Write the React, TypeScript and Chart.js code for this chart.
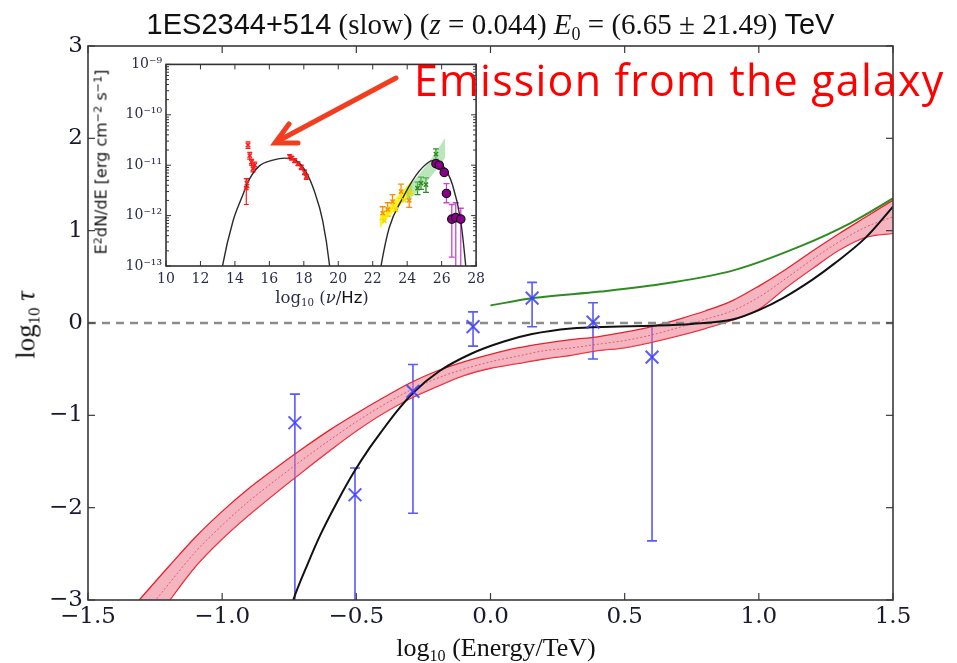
import React, { useEffect, useRef } from "react";
import { Chart, registerables } from "chart.js";

Chart.register(...registerables);

const SERIF = '"Liberation Serif", "DejaVu Serif", serif';
const WSERIF = '"DejaVu Serif", "Liberation Serif", serif';
const SANS = '"Liberation Sans", "DejaVu Sans", sans-serif';
const DSANS = '"DejaVu Sans", "Liberation Sans", sans-serif';

// ---------------- main panel ----------------
const xTicks = [-1.5, -1.0, -0.5, 0.0, 0.5, 1.0, 1.5];
const xTickLabels = ["−1.5", "−1.0", "−0.5", "0.0", "0.5", "1.0", "1.5"];
const yTicks = [-3, -2, -1, 0, 1, 2, 3];
const yTickLabels = ["−3", "−2", "−1", "0", "1", "2", "3"];

// measured points (log10 E/TeV, log10 tau)
const obsLogE = [-0.729, -0.505, -0.289, -0.065, 0.155, 0.382, 0.602];
const obsLogTau = [-1.08, -1.86, -0.74, -0.04, 0.27, 0.01, -0.37];
const obsTauHi = [-0.77, -1.57, -0.45, 0.12, 0.44, 0.22, -0.03];
const obsTauLo = [-3.6, -3.6, -2.06, -0.25, -0.04, -0.39, -2.36];

// EBL model band
const bandLogE = [-1.4, -1.3, -1.2, -1.1, -1.0, -0.9, -0.8, -0.7, -0.6, -0.5, -0.4, -0.3, -0.2, -0.1, 0.0, 0.1, 0.2, 0.3, 0.4, 0.5, 0.6, 0.7, 0.8, 0.9, 1.0, 1.1, 1.2, 1.3, 1.4, 1.5];
const bandUpper = [-3.3, -2.97, -2.64, -2.32, -2.04, -1.79, -1.57, -1.36, -1.16, -0.98, -0.81, -0.65, -0.52, -0.42, -0.34, -0.27, -0.22, -0.18, -0.15, -0.1, -0.04, 0.04, 0.13, 0.24, 0.4, 0.58, 0.78, 0.97, 1.15, 1.33];
const bandLower = [-3.85, -3.42, -3.02, -2.64, -2.34, -2.08, -1.84, -1.61, -1.385, -1.17, -0.98, -0.82, -0.69, -0.57, -0.49, -0.44, -0.39, -0.35, -0.3, -0.27, -0.21, -0.14, -0.06, 0.03, 0.15, 0.38, 0.59, 0.79, 0.93, 0.97];
const bandMid = [-3.57, -3.19, -2.83, -2.48, -2.19, -1.93, -1.7, -1.48, -1.27, -1.07, -0.89, -0.73, -0.6, -0.5, -0.42, -0.36, -0.3, -0.27, -0.23, -0.19, -0.13, -0.05, 0.04, 0.13, 0.28, 0.48, 0.69, 0.88, 1.04, 1.15];

// black model curve
const modelLogE = [-0.76, -0.735, -0.68, -0.635, -0.57, -0.51, -0.45, -0.41, -0.35, -0.29, -0.19, -0.07, 0.05, 0.155, 0.3, 0.45, 0.6, 0.75, 0.905, 1.0, 1.09, 1.2, 1.28, 1.4, 1.5];
const modelLogTau = [-3.25, -3.0, -2.6, -2.3, -1.93, -1.62, -1.35, -1.19, -0.96, -0.76, -0.52, -0.33, -0.2, -0.12, -0.06, -0.04, -0.03, -0.01, 0.04, 0.14, 0.27, 0.47, 0.64, 0.93, 1.26];

// green curve
const greenLogE = [0.0, 0.16, 0.41, 0.657, 0.905, 1.153, 1.34, 1.5];
const greenLogTau = [0.19, 0.27, 0.34, 0.43, 0.57, 0.83, 1.08, 1.35];

const zeroLogE = [-1.5, 1.5];
const zeroTau = [0, 0];

// ---------------- inset (SED) ----------------
const insetXTicks = [10, 12, 14, 16, 18, 20, 22, 24, 26, 28];
const insetYTicks = [1e-13, 1e-12, 1e-11, 1e-10, 1e-9];
const insetYTickLabels = ["10⁻¹³", "10⁻¹²", "10⁻¹¹", "10⁻¹⁰", "10⁻⁹"];

const synNu = [13.1, 13.28, 13.89, 14.38, 14.86, 15.44, 16.21, 16.89, 17.56, 18.14, 18.62, 19.1, 19.49, 19.6];
const synFlux = [4e-14, 1.0e-13, 7.8e-13, 2.2e-12, 5.4e-12, 9.8e-12, 1.26e-11, 1.38e-11, 1.23e-11, 7.2e-12, 3.0e-12, 7.8e-13, 1.05e-13, 4e-14];

const icNu = [22.3, 22.48, 22.96, 23.73, 24.51, 25.28, 25.47, 26.05, 26.63, 27.11, 27.4, 27.5];
const icFlux = [4e-14, 1e-13, 5.8e-13, 2.2e-12, 6.3e-12, 1.17e-11, 1.23e-11, 1.0e-11, 4.1e-12, 7.8e-13, 1e-13, 4e-14];

const redNu = [14.66, 14.7, 14.76, 14.86, 14.96, 15.05, 15.15, 17.18, 17.3, 17.47, 17.66, 17.85, 18.04, 18.14];
const redFlux = [3.5e-12, 4.4e-12, 2.5e-11, 1.55e-11, 1.15e-11, 8.5e-12, 1.0e-11, 1.48e-11, 1.38e-11, 1.23e-11, 1.07e-11, 9.1e-12, 7.2e-12, 5.9e-12];
const redHi = [5.4e-12, 5.4e-12, 2.9e-11, 1.8e-11, 1.3e-11, 9.8e-12, 1.15e-11, 1.62e-11, 1.5e-11, 1.35e-11, 1.17e-11, 1.0e-11, 8.0e-12, 6.6e-12];
const redLo = [1.66e-12, 3.6e-12, 2.15e-11, 1.32e-11, 1.0e-11, 7.4e-12, 8.7e-12, 1.35e-11, 1.26e-11, 1.12e-11, 9.8e-12, 8.2e-12, 6.5e-12, 5.2e-12];

const orangeNu = [22.58, 22.87, 23.15, 23.64, 24.12];
const orangeFlux = [1.12e-12, 1.32e-12, 1.9e-12, 3.0e-12, 2.0e-12];
const orangeHi = [1.5e-12, 1.8e-12, 2.6e-12, 4.2e-12, 2.8e-12];
const orangeLo = [8.3e-13, 9.8e-13, 1.4e-12, 2.2e-12, 1.45e-12];

const yellowNu = [22.67, 23.35, 23.83, 24.22];
const yellowFlux = [7.9e-13, 1.32e-12, 2.0e-12, 2.75e-12];

const greenNu = [24.6, 24.8, 25.09, 25.67];
const greenFlux = [3.5e-12, 4.4e-12, 4.1e-12, 1.66e-11];
const greenHi = [4.6e-12, 5.8e-12, 5.6e-12, 2.1e-11];
const greenLo = [2.6e-12, 3.3e-12, 2.9e-12, 1.3e-11];

const purpleNu = [25.67, 25.86, 26.15, 26.28, 26.59, 26.82, 27.11];
const purpleFlux = [1.07e-11, 1.0e-11, 7.2e-12, 2.75e-12, 8.5e-13, 9.1e-13, 8.5e-13];
const purpleHi = [1.2e-11, 1.15e-11, 8.3e-12, 4.3e-12, 1.66e-12, 1.8e-12, 1.4e-12];
const purpleLo = [9.5e-12, 8.8e-12, 6.2e-12, 1.8e-12, 1.5e-13, 5e-14, 5e-14];

const greenBandNu = [23.95, 24.6, 25.3, 25.9, 26.2];
const greenBandLo = [1.8e-12, 3.0e-12, 5.5e-12, 1.0e-11, 1.4e-11];
const greenBandHi = [3.5e-12, 6.0e-12, 1.2e-11, 2.4e-11, 3.5e-11];

const yellowBandNu = [22.4, 23.0, 23.6, 24.3];
const yellowBandLo = [5.6e-13, 1.0e-12, 1.6e-12, 2.8e-12];
const yellowBandHi = [1.0e-12, 1.6e-12, 2.8e-12, 5.0e-12];

const pts = (xs: number[], ys: number[]) => xs.map((x, i) => ({ x, y: ys[i] }));

const framePlugin = {
  id: "frame",
  afterDatasetsDraw(chart: any, _args: any, opts: any) {
    const { ctx, chartArea, scales } = chart;
    const { left, right, top, bottom } = chartArea;
    ctx.save();
    ctx.strokeStyle = opts.color;
    ctx.lineWidth = opts.tickWidth;
    const line = (x1: number, y1: number, x2: number, y2: number) => {
      ctx.beginPath();
      ctx.moveTo(x1, y1);
      ctx.lineTo(x2, y2);
      ctx.stroke();
    };
    const L = opts.tickLen;
    scales.x.ticks.forEach((t: any) => {
      const px = scales.x.getPixelForValue(t.value);
      line(px, bottom, px, bottom - L);
      line(px, top, px, top + L);
    });
    scales.y.ticks.forEach((t: any) => {
      const py = scales.y.getPixelForValue(t.value);
      line(left, py, left + L, py);
      line(right, py, right - L, py);
    });
    (opts.minorY || []).forEach((v: number) => {
      const py = scales.y.getPixelForValue(v);
      if (py < top || py > bottom) return;
      line(left, py, left + opts.minorLen, py);
      line(right, py, right - opts.minorLen, py);
    });
    ctx.lineWidth = opts.lineWidth;
    ctx.strokeRect(left, top, right - left, bottom - top);
    ctx.restore();
  },
};

const errorBarPlugin = {
  id: "errbars",
  beforeDatasetsDraw(chart: any, _args: any, opts: any) {
    const { ctx, chartArea, scales } = chart;
    ctx.save();
    ctx.beginPath();
    ctx.rect(chartArea.left, chartArea.top, chartArea.right - chartArea.left, chartArea.bottom - chartArea.top);
    ctx.clip();
    (opts.sets || []).forEach((s: any) => {
      ctx.strokeStyle = s.color;
      ctx.lineWidth = s.width;
      s.x.forEach((xv: number, i: number) => {
        const px = scales.x.getPixelForValue(xv);
        const p1 = scales.y.getPixelForValue(s.lo[i]);
        const p2 = scales.y.getPixelForValue(s.hi[i]);
        ctx.beginPath();
        ctx.moveTo(px, p1);
        ctx.lineTo(px, p2);
        ctx.moveTo(px - s.cap, p1);
        ctx.lineTo(px + s.cap, p1);
        ctx.moveTo(px - s.cap, p2);
        ctx.lineTo(px + s.cap, p2);
        ctx.stroke();
      });
    });
    ctx.restore();
  },
};

const BLUE = "rgba(60,60,255,0.85)";
const RED_EDGE = "#e8202a";

export default function App() {
  const mainRef = useRef<HTMLCanvasElement>(null);
  const insetRef = useRef<HTMLCanvasElement>(null);

  useEffect(() => {
    const line = { pointRadius: 0, cubicInterpolationMode: "monotone" as const };
    const main = new Chart(mainRef.current as HTMLCanvasElement, {
      type: "line",
      data: {
        datasets: [
          { data: pts(obsLogE, obsLogTau), showLine: false, pointStyle: "crossRot", pointRadius: 9, pointBorderWidth: 2, borderColor: BLUE, backgroundColor: BLUE },
          { data: pts(modelLogE, modelLogTau), borderColor: "#111", borderWidth: 2, ...line },
          { data: pts(greenLogE, greenLogTau), borderColor: "#2e8b22", borderWidth: 2, ...line },
          { data: pts(zeroLogE, zeroTau), borderColor: "#8c8c8c", borderWidth: 2.5, borderDash: [8, 6], pointRadius: 0 },
          { data: pts(bandLogE, bandMid), borderColor: "rgba(225,70,90,0.8)", borderWidth: 1, borderDash: [2, 2], ...line },
          { data: pts(bandLogE, bandUpper), borderColor: RED_EDGE, borderWidth: 1.3, fill: "+1", backgroundColor: "rgba(236,120,140,0.55)", ...line },
          { data: pts(bandLogE, bandLower), borderColor: RED_EDGE, borderWidth: 1.3, ...line },
        ] as any,
      },
      options: {
        animation: false,
        responsive: false,
        events: [],
        layout: { padding: { top: 46, right: 64, left: 0, bottom: 0 } },
        plugins: {
          legend: { display: false },
          tooltip: { enabled: false },
          frame: { color: "#3a3a3a", lineWidth: 1.6, tickWidth: 1.2, tickLen: 7 },
          errbars: { sets: [{ x: obsLogE, lo: obsTauLo, hi: obsTauHi, color: BLUE, width: 1.6, cap: 5 }] },
        } as any,
        scales: {
          x: {
            type: "linear",
            min: -1.5,
            max: 1.5,
            afterBuildTicks: (s: any) => { s.ticks = xTicks.map((v) => ({ value: v })); },
            afterFit: (s: any) => { s.height = 63; },
            grid: { display: false, drawTicks: false },
            border: { display: false },
            ticks: { padding: 3, autoSkip: false, maxRotation: 0, color: "#1a1a2e", font: { family: WSERIF, size: 23 }, callback: (_v: any, i: number) => xTickLabels[i] },
          },
          y: {
            type: "linear",
            min: -3,
            max: 3,
            afterBuildTicks: (s: any) => { s.ticks = yTicks.map((v) => ({ value: v })); },
            afterFit: (s: any) => { s.width = 88; },
            grid: { display: false, drawTicks: false },
            border: { display: false },
            ticks: { padding: 5, autoSkip: false, color: "#1a1a2e", font: { family: WSERIF, size: 23 }, callback: (_v: any, i: number) => yTickLabels[i] },
          },
        },
      },
      plugins: [framePlugin, errorBarPlugin],
    });

    const minorY: number[] = [];
    insetYTicks.slice(0, -1).forEach((d) => { for (let k = 2; k <= 9; k++) minorY.push(k * d); });
    const mk = (c: string) => ({ showLine: false, pointStyle: "crossRot", pointRadius: 3, pointBorderWidth: 1.5, borderColor: c, backgroundColor: c });

    const inset = new Chart(insetRef.current as HTMLCanvasElement, {
      type: "line",
      data: {
        datasets: [
          { data: pts(purpleNu, purpleFlux), showLine: false, pointStyle: "circle", pointRadius: 4.2, pointBorderWidth: 1.2, borderColor: "#111", backgroundColor: "#8a008a" },
          { data: pts(greenNu, greenFlux), ...mk("#2e8b22") },
          { data: pts(orangeNu, orangeFlux), ...mk("#ff8c00") },
          { data: pts(yellowNu, yellowFlux), ...mk("#f2dc00") },
          { data: pts(redNu, redFlux), ...mk("#ff1a1a") },
          { data: pts(synNu, synFlux), borderColor: "#2a2a2a", borderWidth: 1.4, ...line },
          { data: pts(icNu, icFlux), borderColor: "#2a2a2a", borderWidth: 1.4, ...line },
          { data: pts(greenBandNu, greenBandHi), borderColor: "rgba(0,0,0,0)", borderWidth: 0, fill: "+1", backgroundColor: "rgba(120,205,120,0.5)", pointRadius: 0 },
          { data: pts(greenBandNu, greenBandLo), borderColor: "rgba(0,0,0,0)", borderWidth: 0, pointRadius: 0 },
          { data: pts(yellowBandNu, yellowBandHi), borderColor: "rgba(0,0,0,0)", borderWidth: 0, fill: "+1", backgroundColor: "rgba(255,240,0,0.85)", pointRadius: 0 },
          { data: pts(yellowBandNu, yellowBandLo), borderColor: "rgba(0,0,0,0)", borderWidth: 0, pointRadius: 0 },
        ] as any,
      },
      options: {
        animation: false,
        responsive: false,
        events: [],
        layout: { padding: { top: 8, right: 13, left: 0, bottom: 0 } },
        plugins: {
          legend: { display: false },
          tooltip: { enabled: false },
          frame: { color: "#333", lineWidth: 1.6, tickWidth: 1, tickLen: 5, minorY, minorLen: 3 },
          errbars: {
            sets: [
              { x: redNu, lo: redLo, hi: redHi, color: "#ff1a1a", width: 1.2, cap: 2.5 },
              { x: orangeNu, lo: orangeLo, hi: orangeHi, color: "#ff8c00", width: 1.3, cap: 3 },
              { x: greenNu, lo: greenLo, hi: greenHi, color: "#2e8b22", width: 1.3, cap: 3 },
              { x: purpleNu, lo: purpleLo, hi: purpleHi, color: "#cc44cc", width: 1.3, cap: 3 },
            ],
          },
        } as any,
        scales: {
          x: {
            type: "linear",
            min: 10,
            max: 28,
            afterBuildTicks: (s: any) => { s.ticks = insetXTicks.map((v) => ({ value: v })); },
            afterFit: (s: any) => { s.height = 48; },
            grid: { display: false, drawTicks: false },
            border: { display: false },
            ticks: { padding: 5, autoSkip: false, maxRotation: 0, color: "#2a2a4a", font: { family: WSERIF, size: 14 }, callback: (v: any) => String(v) },
          },
          y: {
            type: "logarithmic",
            min: 1e-13,
            max: 1e-9,
            afterBuildTicks: (s: any) => { s.ticks = insetYTicks.map((v) => ({ value: v })); },
            afterFit: (s: any) => { s.width = 76; },
            grid: { display: false, drawTicks: false },
            border: { display: false },
            ticks: { padding: 4, autoSkip: false, color: "#2a2a4a", font: { family: WSERIF, size: 14 }, callback: (_v: any, i: number) => insetYTickLabels[i] },
          },
        },
      },
      plugins: [framePlugin, errorBarPlugin],
    });

    return () => {
      main.destroy();
      inset.destroy();
    };
  }, []);

  const abs = (s: React.CSSProperties): React.CSSProperties => ({ position: "absolute", whiteSpace: "nowrap", ...s });
  const sub = { fontSize: "0.62em", position: "relative" as const, top: "0.32em" };
  const sup = { fontSize: "0.7em", position: "relative" as const, top: "-0.45em" };

  return (
    <div style={{ position: "absolute", left: 0, top: 0, width: 957, height: 663, background: "#fff", overflow: "hidden" }}>
      <canvas ref={mainRef} width={957} height={663} style={{ position: "absolute", left: 0, top: 0, width: 957, height: 663 }} />
      <canvas ref={insetRef} width={400} height={262} style={{ position: "absolute", left: 90, top: 52, width: 400, height: 262 }} />

      <div style={abs({ left: 88, width: 805, top: 9, textAlign: "center", fontFamily: SERIF, fontSize: 29, lineHeight: "30px", color: "#111" })}>
        <span style={{ fontFamily: SANS }}>1ES2344+514</span> (slow) (<i>z</i> = 0.044) <i>E</i>
        <span style={sub}>0</span> = (6.65 ± 21.49) <span style={{ fontFamily: SANS }}>TeV</span>
      </div>

      <div style={abs({ left: 26, top: 325, transform: "translate(-50%, -50%) rotate(-90deg)", fontFamily: SERIF, fontSize: 27, color: "#111" })}>
        log<span style={sub}>10</span> <i>τ</i>
      </div>
      <div style={abs({ left: 496, top: 648, transform: "translate(-50%, -50%)", fontFamily: SERIF, fontSize: 26, color: "#111" })}>
        log<span style={sub}>10</span> (Energy/TeV)
      </div>

      <div style={abs({ left: 101, top: 162, transform: "translate(-50%, -50%) rotate(-90deg)", fontFamily: DSANS, fontSize: 16, color: "#111" })}>
        E<span style={sup}>2</span>dN/dE [erg cm<span style={sup}>−2</span> s<span style={sup}>−1</span>]
      </div>
      <div style={abs({ left: 322, top: 297, transform: "translate(-50%, -50%)", fontFamily: WSERIF, fontSize: 16.5, color: "#2a2a4a" })}>
        log<span style={sub}>10</span> (<i>ν</i>/<span style={{ fontFamily: DSANS, color: "#111" }}>Hz</span>)
      </div>

      <svg width={957} height={663} style={{ position: "absolute", left: 0, top: 0, pointerEvents: "none" }}>
        <line x1={396} y1={78} x2={278} y2={141} stroke="rgb(242,62,30)" strokeWidth={5} strokeLinecap="round" />
        <polyline points="289,124 275,143 298,143" fill="none" stroke="rgb(242,62,30)" strokeWidth={5} strokeLinecap="round" strokeLinejoin="miter" />
      </svg>
      <div style={abs({ left: 414, top: 50, fontFamily: "'Open Sans', Lato, sans-serif", fontSize: 43, letterSpacing: "1.2px", lineHeight: "60px", color: "#ff0000" })}>
        Emission from the galaxy
      </div>
    </div>
  );
}
